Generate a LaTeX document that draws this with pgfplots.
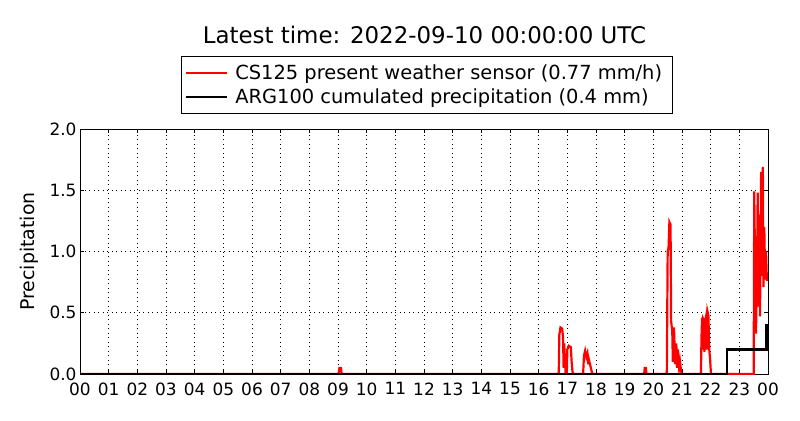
\documentclass[border=0pt]{standalone}
\usepackage{fontspec}
\setmainfont{DejaVu Sans}
\usepackage{pgfplots}
\pgfplotsset{compat=1.18}
\begin{document}
\begin{tikzpicture}[x=1bp,y=1bp]
\useasboundingbox (0,0) rectangle (800,420);
\node[font=\fontsize{23}{27}\selectfont] at (424.5,385) {Latest time: 2022-09-10 00:00:00 UTC};
\node[rotate=90,font=\fontsize{19}{23}\selectfont] at (29,168.5) {Precipitation};
\begin{axis}[
  at={(80bp,46bp)}, anchor=south west,
  width=688bp, height=245bp, scale only axis,
  xmin=0, xmax=24, ymin=0, ymax=2,
  xtick={0,1,...,24},
  xticklabels={00,01,02,03,04,05,06,07,08,09,10,11,12,13,14,15,16,17,18,19,20,21,22,23,00},
  ytick={0,0.5,1,1.5,2},
  yticklabel style={/pgf/number format/.cd, fixed, fixed zerofill, precision=1},
  xticklabel style={yshift=-5bp},
  /pgf/number format/assume math mode=true,
  tick label style={font=\fontsize{17}{20}\selectfont},
  tick align=inside, xtick pos=both, ytick pos=both,
  major tick length=4bp,
  tick style={black, line width=0.6bp},
  axis line style={line width=1bp},
  grid=major,
  major grid style={black, line width=0.7bp, dash pattern=on 1bp off 3.5bp},
  legend style={at={(0.5,1)}, anchor=center, yshift=44bp, xshift=3bp, draw=black, line width=1bp,
    font=\fontsize{19.5}{23}\selectfont, legend cell align=left,
    inner xsep=3bp, inner ysep=7bp, row sep=6bp,
    nodes={inner xsep=7bp, inner ysep=1bp}},
  legend image code/.code={\draw[#1, line width=2.5bp] (0bp,0bp) -- (41bp,0bp);},
]
\addplot[red, line width=2.2bp] coordinates {
(0,0) (9.02,0) (9.05,0.05) (9.1,0.05) (9.13,0)
(16.70,0) (16.72,0.32) (16.76,0.38) (16.82,0.37) (16.85,0.3) (16.87,0.05) (16.89,0.25) (16.92,0.1) (16.94,0)
(16.98,0) (17.0,0.2) (17.05,0.23) (17.12,0.22) (17.15,0.1) (17.18,0.02) (17.2,0)
(17.55,0) (17.58,0.15) (17.62,0.19) (17.66,0.14) (17.7,0.17) (17.73,0.08) (17.75,0.12) (17.8,0.07) (17.85,0.02) (17.88,0)
(19.68,0) (19.7,0.05) (19.74,0.05) (19.76,0)
(20.47,0) (20.5,1.0) (20.53,1.03) (20.56,1.24) (20.6,1.22) (20.62,0.43) (20.66,0.35) (20.68,0.1) (20.72,0.38) (20.76,0.08) (20.8,0.25) (20.83,0.05) (20.86,0.2) (20.9,0.05) (20.93,0.1) (20.97,0.02) (21.0,0)
(21.66,0) (21.68,0.3) (21.70,0.46) (21.72,0.2) (21.74,0.45) (21.76,0.44) (21.78,0.18) (21.80,0.42) (21.84,0.47) (21.87,0.2) (21.89,0.51) (21.92,0.48) (21.95,0.2) (21.98,0.12) (22.01,0)
(23.50,0) (23.52,1.49) (23.56,0.6) (23.58,0.33) (23.62,0.9) (23.64,1.48) (23.67,0.55) (23.70,1.3) (23.72,0.47) (23.74,1.0) (23.76,1.65) (23.79,0.8) (23.82,1.69) (23.84,0.71) (23.87,1.2) (23.90,0.77) (23.93,1.0) (23.96,0.77) (24.0,0.77)
};
\addlegendentry{CS125 present weather sensor (0.77 mm/h)}
\addplot[black, line width=2.5bp] coordinates {
(0,0) (22.57,0) (22.57,0.2) (23.94,0.2) (23.94,0.4) (24,0.4)
};
\addlegendentry{ARG100 cumulated precipitation (0.4 mm)}
\end{axis}
\end{tikzpicture}
\end{document}
